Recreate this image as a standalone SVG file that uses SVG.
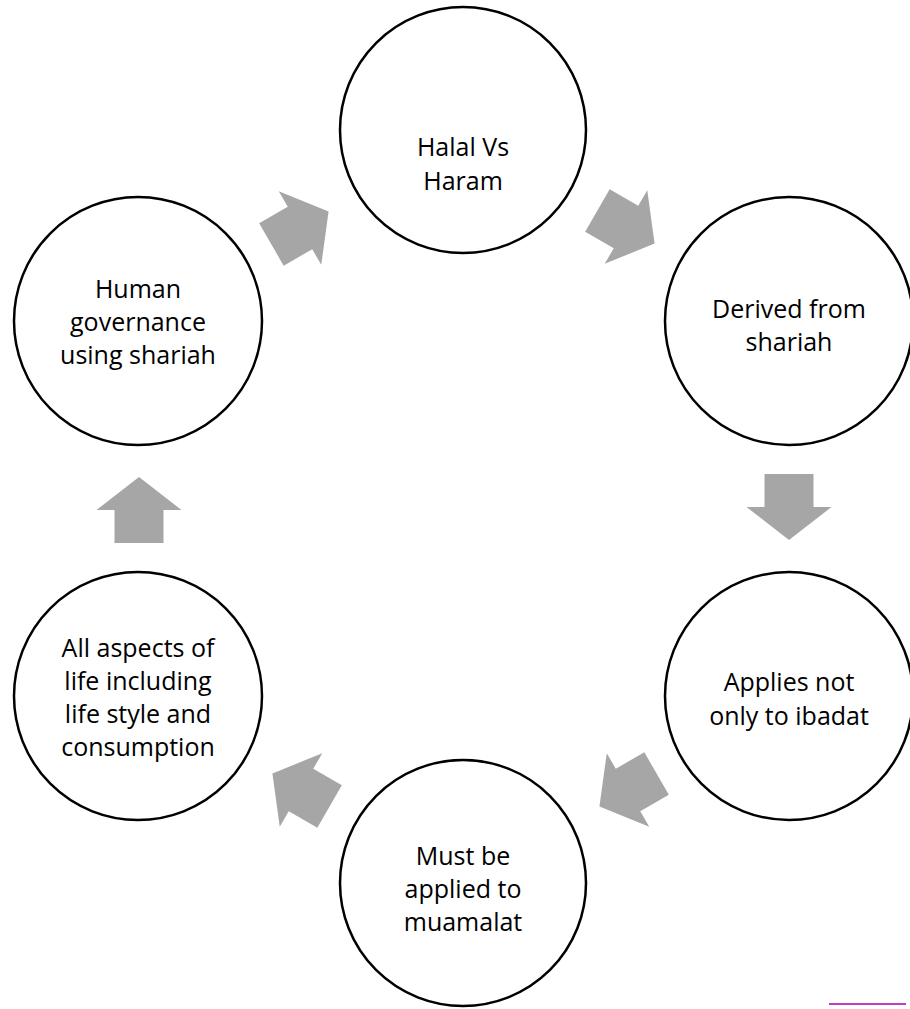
<svg xmlns="http://www.w3.org/2000/svg" width="910" height="1009" viewBox="0 0 910 1009">
  <style>
    .node circle { fill: #ffffff; stroke: #000000; stroke-width: 2.5; }
    .node text { font-family: "Open Sans", "Liberation Sans", sans-serif; font-size: 25px; fill: #000000; text-anchor: middle; }
    .arrow { fill: #a6a6a6; }
  </style>
  <defs>
    <!-- block arrow pointing along +x, centred on the origin -->
    <polygon id="blockArrow" points="-33,-24.5 0,-24.5 0,-42.5 33,0 0,42.5 0,24.5 -33,24.5"/>
  </defs>

  <rect width="910" height="1009" fill="#ffffff"/>

  <g id="connectors">
    <use href="#blockArrow" class="arrow" transform="translate(300,228) rotate(-30)"/>
    <use href="#blockArrow" class="arrow" transform="translate(626,227) rotate(30)"/>
    <use href="#blockArrow" class="arrow" transform="translate(789,507) rotate(90)"/>
    <use href="#blockArrow" class="arrow" transform="translate(628,790) rotate(150)"/>
    <use href="#blockArrow" class="arrow" transform="translate(301,790) rotate(210)"/>
    <use href="#blockArrow" class="arrow" transform="translate(139,510) rotate(-90)"/>
  </g>

  <g id="node-halal" class="node">
    <circle cx="463" cy="130" r="123"/>
    <text x="463" y="156">Halal Vs</text>
    <text x="463" y="190">Haram</text>
  </g>

  <g id="node-derived" class="node">
    <circle cx="789" cy="321" r="124"/>
    <text x="789" y="318">Derived from</text>
    <text x="789" y="351">shariah</text>
  </g>

  <g id="node-applies" class="node">
    <circle cx="789" cy="696" r="124"/>
    <text x="789" y="691">Applies not</text>
    <text x="789" y="725">only to ibadat</text>
  </g>

  <g id="node-muamalat" class="node">
    <circle cx="463" cy="883" r="123"/>
    <text x="463" y="865">Must be</text>
    <text x="463" y="898">applied to</text>
    <text x="463" y="931">muamalat</text>
  </g>

  <g id="node-aspects" class="node">
    <circle cx="138" cy="696" r="124"/>
    <text x="138" y="657">All aspects of</text>
    <text x="138" y="690">life including</text>
    <text x="138" y="723">life style and</text>
    <text x="138" y="756">consumption</text>
  </g>

  <g id="node-governance" class="node">
    <circle cx="138" cy="321" r="124"/>
    <text x="138" y="298">Human</text>
    <text x="138" y="331">governance</text>
    <text x="138" y="364">using shariah</text>
  </g>

  <!-- short accent rule in the lower right corner -->
  <line x1="829" y1="1004" x2="906" y2="1004" stroke="#c03cc0" stroke-width="2"/>
</svg>
